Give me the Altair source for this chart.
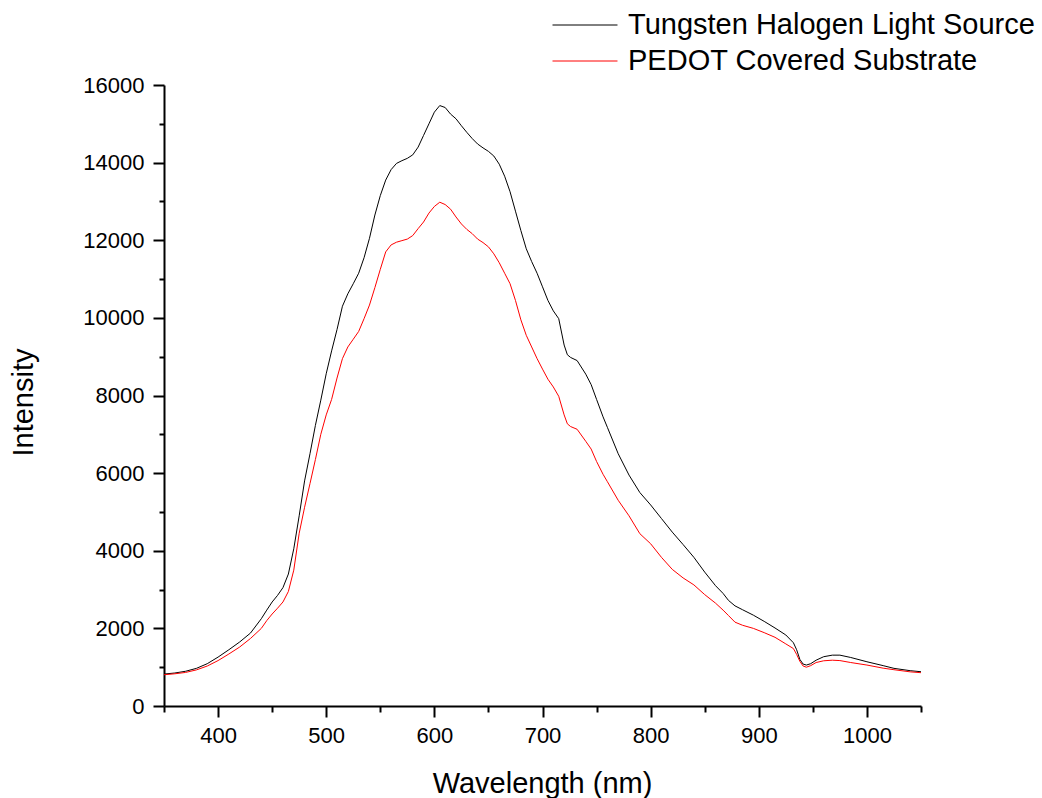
import altair as alt
import pandas as pd

wavelength = [350, 360, 370, 380, 390, 400, 410, 420, 430, 440, 445, 450, 455, 460, 465, 470,
              475, 480, 485, 490, 495, 500, 505, 510, 515, 520, 525, 530, 535, 540, 545, 550,
              555, 560, 565, 570, 575, 580, 585, 590, 595, 600, 605, 610, 615, 620, 625, 630,
              635, 640, 645, 650, 655, 660, 665, 670, 675, 680, 685, 690, 695, 700, 705, 710,
              715, 720, 723, 726, 732, 740, 745, 750, 756, 760, 770, 780, 790, 800, 810, 820,
              830, 840, 850, 860, 867, 872, 878, 885, 895, 905, 915, 925, 932, 935, 938, 941,
              944, 948, 953, 960, 968, 975, 985, 1000, 1015, 1025, 1040, 1050]

tungsten = [823, 850, 895, 970, 1090, 1260, 1450, 1650, 1880, 2250, 2470, 2680, 2850, 3050, 3400, 4050,
            4900, 5800, 6500, 7230, 7880, 8560, 9150, 9700, 10300, 10620, 10880, 11150, 11550, 12050, 12650, 13150,
            13550, 13820, 13980, 14050, 14110, 14200, 14400, 14700, 15000, 15300, 15470, 15420, 15250, 15130, 14950, 14780,
            14620, 14480, 14380, 14290, 14170, 13960, 13650, 13250, 12750, 12250, 11780, 11450, 11150, 10800, 10450, 10180,
            9980, 9300, 9050, 8980, 8900, 8550, 8280, 7900, 7450, 7180, 6500, 5950, 5500, 5180, 4830, 4480,
            4160, 3830, 3450, 3100, 2900, 2720, 2580, 2480, 2340, 2180, 2010, 1830, 1630, 1450, 1200, 1080,
            1055, 1090, 1180, 1270, 1310, 1310, 1250, 1140, 1040, 970, 910, 883]

pedot = [805, 830, 865, 930, 1030, 1170, 1340, 1520, 1740, 2000, 2200, 2370, 2520, 2680, 2950, 3500,
         4450, 5120, 5730, 6350, 7000, 7500, 7900, 8450, 8950, 9250, 9450, 9650, 9980, 10330, 10780, 11250,
         11700, 11880, 11950, 11990, 12030, 12120, 12300, 12470, 12700, 12870, 12980, 12920, 12800, 12600, 12420, 12280,
         12170, 12030, 11940, 11830, 11650, 11420, 11150, 10880, 10450, 9950, 9550, 9250, 8950, 8680, 8420, 8220,
         7980, 7500, 7270, 7200, 7130, 6820, 6620, 6300, 5970, 5780, 5300, 4900, 4440, 4180, 3830, 3520,
         3300, 3120, 2870, 2650, 2470, 2330, 2160, 2080, 2000, 1890, 1770, 1600, 1480, 1330, 1150, 1030,
         1000, 1040, 1120, 1165, 1180, 1170, 1120, 1055, 975, 935, 880, 858]

series_names = ["Tungsten Halogen Light Source", "PEDOT Covered Substrate"]
series_colors = ["#000000", "#ff0000"]

x_ticks = list(range(350, 1051, 50))
y_ticks = list(range(0, 16001, 1000))

rows = []
for name, vals in zip(series_names, [tungsten, pedot]):
    for w, v in zip(wavelength, vals):
        rows.append({"Wavelength": w, "Intensity": v, "Series": name})
df = pd.DataFrame(rows)

FONT = "Liberation Sans"

chart = alt.Chart(df).mark_line(strokeWidth=1, clip=True).encode(
    x=alt.X("Wavelength:Q",
            scale=alt.Scale(domain=[350, 1050], nice=False, zero=False),
            axis=alt.Axis(
                title="Wavelength (nm)", values=x_ticks, grid=False, format="d",
                labelExpr="datum.value % 100 === 0 ? datum.label : ''",
                tickSize={"condition": {"test": "datum.value % 100 === 0", "value": 11}, "value": 6},
                tickWidth=2, tickColor="black", domainColor="black", domainWidth=2,
                labelFont=FONT, labelFontSize=22, labelColor="black", labelPadding=8,
                labelFlush=False, labelOverlap=False,
                titleFont=FONT, titleFontSize=29, titleFontWeight="normal", titleColor="black",
                titleX=378, titleY=86, titleBaseline="alphabetic", titleAlign="center",
            )),
    y=alt.Y("Intensity:Q",
            scale=alt.Scale(domain=[0, 16000], nice=False),
            axis=alt.Axis(
                title="Intensity", values=y_ticks, grid=False, format="d",
                labelExpr="datum.value % 2000 === 0 ? datum.label : ''",
                tickSize={"condition": {"test": "datum.value % 2000 === 0", "value": 11}, "value": 5},
                tickWidth=2, tickColor="black", domainColor="black", domainWidth=2,
                labelFont=FONT, labelFontSize=22, labelColor="black", labelPadding=9,
                labelFlush=False, labelOverlap=False,
                titleFont=FONT, titleFontSize=29, titleFontWeight="normal", titleColor="black",
                titleX=-141, titleY=317, titleAngle=270, titleBaseline="middle", titleAlign="center",
            )),
    color=alt.Color("Series:N",
                    scale=alt.Scale(domain=series_names, range=series_colors),
                    sort=series_names,
                    legend=alt.Legend(
                        title=None, orient="none", legendX=404, legendY=-77,
                        symbolType="M-2,0H2", symbolSize=1056, symbolStrokeWidth=1,
                        symbolFillColor="transparent",
                        labelFont=FONT, labelFontSize=29, labelColor="black", labelOffset=26,
                        rowPadding=4, padding=0, labelLimit=600,
                    )),
).properties(
    width=757, height=621,
    background="white",
    autosize=alt.AutoSizeParams(type="none"),
    padding={"left": 164, "top": 85, "right": 121, "bottom": 92},
).configure_view(stroke=None, strokeWidth=0)

chart.save("out.html", embed_options={"renderer": "svg", "actions": False})
